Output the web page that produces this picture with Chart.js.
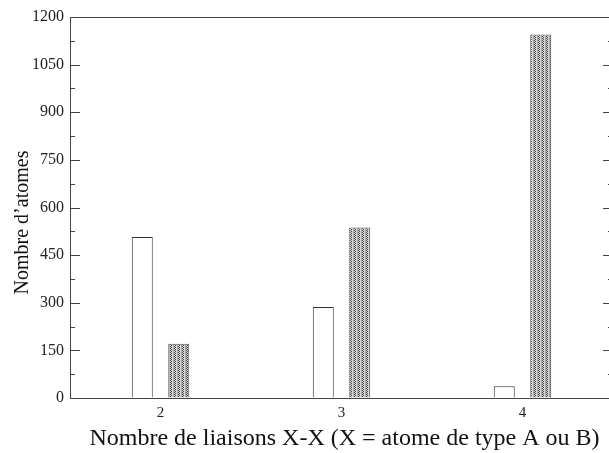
<!DOCTYPE html>
<html>
<head>
<meta charset="utf-8">
<script src="https://cdn.jsdelivr.net/npm/chart.js@4.4.0/dist/chart.umd.min.js"></script>
<style>
  html, body { margin: 0; padding: 0; background: #fff; overflow: hidden; }
  canvas { display: block; }
</style>
</head>
<body>
<canvas id="chart" width="609" height="453"></canvas>
<script>
// Data
const categories = ['2', '3', '4'];
const whiteValues = [507, 287, 37];
const hatchedValues = [171, 537, 1145];
const yTicks = [0, 150, 300, 450, 600, 750, 900, 1050, 1200];

const serif = "'Liberation Serif', 'DejaVu Serif', serif";
const axisColor = '#444';

// Dotted grey fill like the original bars
function makeHatch() {
    const c = document.createElement('canvas');
    c.width = 8;
    c.height = 4;
    const g = c.getContext('2d');
    g.fillStyle = '#d6d6d6';
    g.fillRect(0, 0, 8, 4);
    g.fillStyle = '#a8a8a8';
    g.fillRect(1, 0, 1, 4);
    g.fillRect(5, 0, 1, 4);
    g.fillStyle = '#444';
    for (let y = 0; y < 4; y++) {
        g.fillRect((y % 2) + 2, y, 1, 1);
        g.fillRect((y % 2) + 6, y, 1, 1);
    }
    return g.createPattern(c, 'repeat');
}

// The plot box in the original runs a few pixels past the right edge
const overhangPlugin = {
    id: 'overhang',
    afterLayout(chart) {
        const extra = 4;
        const x = chart.scales.x;
        chart.chartArea.right += extra;
        chart.chartArea.width += extra;
        x.right += extra;
        x.width += extra;
        x.configure();
    }
};

// Top frame line and inward ticks on both vertical sides
const framePlugin = {
    id: 'frame',
    afterDraw(chart) {
        const ctx = chart.ctx;
        const area = chart.chartArea;
        const y = chart.scales.y;
        ctx.save();
        ctx.strokeStyle = axisColor;
        ctx.lineWidth = 1;
        ctx.beginPath();
        ctx.moveTo(area.left, area.top + 0.5);
        ctx.lineTo(area.right, area.top + 0.5);
        for (let v = 0; v <= 1200; v += 75) {
            const py = Math.round(y.getPixelForValue(v)) + 0.5;
            const len = v % 150 === 0 ? 10 : 5;
            ctx.moveTo(area.left, py);
            ctx.lineTo(area.left + len, py);
            ctx.moveTo(area.right, py);
            ctx.lineTo(area.right - len, py);
        }
        ctx.stroke();
        ctx.restore();
    }
};

const ctx = document.getElementById('chart').getContext('2d');
const chart = new Chart(ctx, {
    type: 'bar',
    data: {
        labels: categories,
        datasets: [
            {
                label: 'A',
                data: whiteValues,
                backgroundColor: '#ffffff',
                borderColor: '#333',
                borderWidth: 1
            },
            {
                label: 'B',
                data: hatchedValues,
                backgroundColor: makeHatch(),
                borderColor: '#555',
                borderWidth: 1
            }
        ]
    },
    options: {
        responsive: false,
        animation: false,
        categoryPercentage: 0.403,
        barPercentage: 0.575,
        layout: { padding: { top: 17, right: 0, left: 0, bottom: 0 } },
        plugins: {
            legend: { display: false },
            tooltip: { enabled: false }
        },
        scales: {
            x: {
                grid: { display: false, drawTicks: false },
                border: { display: true, color: axisColor, width: 1 },
                ticks: {
                    color: '#222',
                    font: { family: serif, size: 15 },
                    padding: 6
                },
                title: {
                    display: true,
                    text: ' Nombre de liaisons X-X (X = atome de type A ou B)',
                    color: '#111',
                    font: { family: serif, size: 24 },
                    padding: { top: 5, bottom: 0 }
                },
                afterFit(scale) { scale.height = 55; }
            },
            y: {
                min: 0,
                max: 1200,
                afterBuildTicks(scale) {
                    scale.ticks = yTicks.map(v => ({ value: v }));
                },
                grid: { drawOnChartArea: false, drawTicks: false },
                border: { display: true, color: axisColor, width: 1 },
                ticks: {
                    color: '#222',
                    font: { family: serif, size: 16 },
                    padding: 6,
                    callback: v => String(v)
                },
                title: {
                    display: true,
                    // trailing spaces nudge the rotated title down like the original
                    text: 'Nombre d’atomes      ',
                    color: '#111',
                    font: { family: serif, size: 20 },
                    padding: { top: 11, bottom: 0 }
                },
                afterFit(scale) { scale.width = 70; }
            }
        }
    },
    plugins: [overhangPlugin, framePlugin]
});
</script>
</body>
</html>
